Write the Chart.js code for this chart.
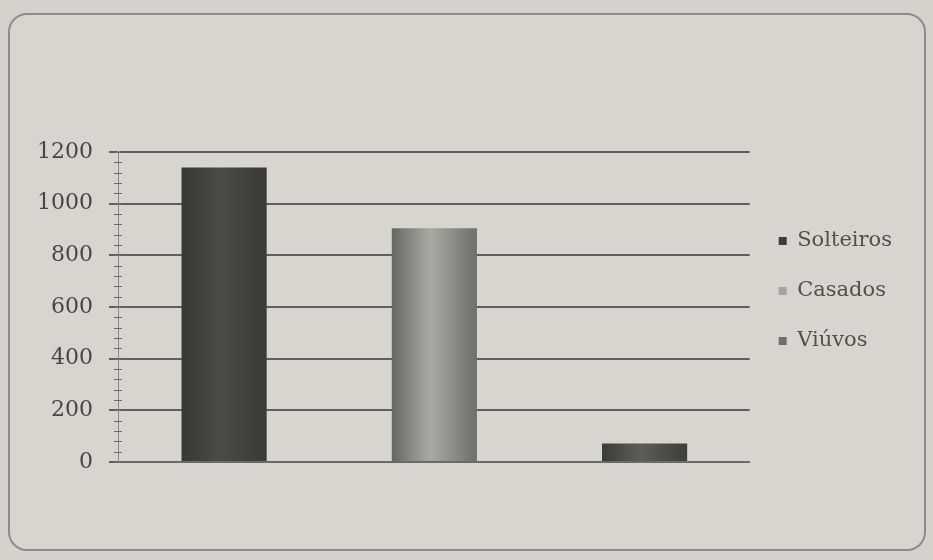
<!DOCTYPE html>
<html>
<head>
<meta charset="utf-8">
<script src="https://cdn.jsdelivr.net/npm/chart.js@4.4.0/dist/chart.umd.min.js"></script>
<style>
html,body{margin:0;padding:0;background:#d4d2ca;}
#wrap{width:933px;height:560px;position:relative;}
</style>
</head>
<body>
<div id="wrap"><canvas id="c" width="933" height="560"></canvas></div>
<script>
const categories = ['Solteiros', 'Casados', 'Viúvos'];
const seriesNames = ['Solteiros', 'Casados', 'Viúvos'];
const seriesValues = [1140, 905, 72];
const yTicks = [0, 200, 400, 600, 800, 1000, 1200];

const barPct = 0.405;
const fills = [
  ['#383836', '#4a4a47', '#3a3a38'],
  ['#666663', '#aaaaa5', '#6e6e6a'],
  ['#3b3b39', '#5c5c58', '#3e3e3c']
];
const legendColors = ['#3c3c3a', '#a6a6a1', '#6e6e6a'];

function gradFor(i) {
  return function(ctx) {
    const chart = ctx.chart;
    const xs = chart.scales.x;
    if (!xs || !chart.chartArea) return fills[i][1];
    const cx = xs.getPixelForValue(ctx.dataIndex);
    const w = (xs.width / categories.length) * barPct;
    const g = chart.ctx.createLinearGradient(cx - w / 2, 0, cx + w / 2, 0);
    g.addColorStop(0, fills[i][0]);
    g.addColorStop(0.45, fills[i][1]);
    g.addColorStop(1, fills[i][2]);
    return g;
  };
}

const datasets = seriesNames.map((name, i) => ({
  label: name,
  data: categories.map((c, j) => (j === i ? seriesValues[i] : null)),
  backgroundColor: gradFor(i),
  borderWidth: 0,
  barPercentage: barPct,
  categoryPercentage: 1.0
}));

const bgPlugin = {
  id: 'bg',
  beforeDraw(chart) {
    const c = chart.ctx;
    c.save();
    c.fillStyle = '#d4d2ca';
    c.fillRect(0, 0, chart.width, chart.height);
    c.beginPath();
    c.roundRect(9, 14, 916, 536, 18);
    c.fillStyle = '#d7d5ce';
    c.fill();
    c.lineWidth = 2;
    c.strokeStyle = '#8c8c88';
    c.stroke();
    c.restore();
  }
};

const legendShift = {
  id: 'legendShift',
  afterLayout(chart) {
    if (chart.legend) {
      chart.legend.top -= 20;
      chart.legend.bottom -= 20;
    }
  }
};

const minorTicks = {
  id: 'minorTicks',
  afterDatasetsDraw(chart) {
    const y = chart.scales.y;
    const left = chart.chartArea.left;
    const c = chart.ctx;
    c.save();
    c.strokeStyle = '#6a6a66';
    c.lineWidth = 1;
    for (let v = 0; v <= 1200; v += 40) {
      const py = Math.round(y.getPixelForValue(v)) + 0.5;
      c.beginPath();
      c.moveTo(left - 5, py);
      c.lineTo(left + 3, py);
      c.stroke();
    }
    c.restore();
  }
};

new Chart(document.getElementById('c'), {
  type: 'bar',
  data: { labels: categories, datasets },
  plugins: [bgPlugin, minorTicks, legendShift],
  options: {
    responsive: false,
    animation: false,
    devicePixelRatio: 1,
    events: [],
    layout: { padding: { left: 21, top: 152, bottom: 90, right: 31 } },
    datasets: { bar: { skipNull: true } },
    plugins: {
      tooltip: { enabled: false },
      legend: {
        position: 'right',
        labels: {
          boxWidth: 8,
          boxHeight: 8,
          padding: 29,
          color: '#505050',
          font: { family: 'DejaVu Serif', size: 21 },
          generateLabels(chart) {
            return seriesNames.map((n, i) => ({
              text: n,
              fillStyle: legendColors[i],
              strokeStyle: legendColors[i],
              lineWidth: 0,
              fontColor: '#505050',
              datasetIndex: i
            }));
          }
        }
      }
    },
    scales: {
      x: {
        ticks: { display: false },
        grid: { display: false },
        border: { display: true, color: '#6a6a66', width: 2 }
      },
      y: {
        min: 0,
        max: 1200,
        afterBuildTicks(scale) { scale.ticks = yTicks.map(v => ({ value: v })); },
        ticks: {
          color: '#474745',
          font: { family: 'DejaVu Serif', size: 22 },
          padding: 16,
          callback: (v) => String(v)
        },
        grid: { color: '#5e5e5a', lineWidth: 2, tickLength: 10, drawTicks: true },
        border: { display: true, color: '#8a8a86', width: 1 }
      }
    }
  }
});
</script>
</body>
</html>
